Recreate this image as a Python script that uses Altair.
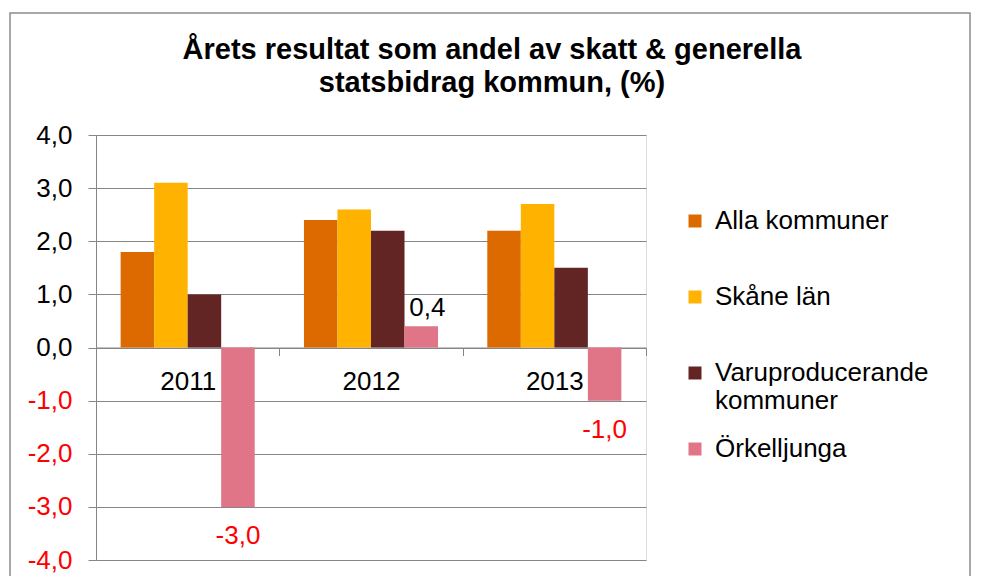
import altair as alt
import pandas as pd

years = ["2011", "2012", "2013"]
series = ["Alla kommuner", "Skåne län", "Varuproducerande kommuner", "Örkelljunga"]
alla_kommuner = [1.8, 2.4, 2.2]
skane_lan = [3.1, 2.6, 2.7]
varuproducerande = [1.0, 2.2, 1.5]
orkelljunga = [-3.0, 0.4, -1.0]
colors = ["#DC6A00", "#FFB300", "#632523", "#E07587"]
title_lines = ["Årets resultat som andel av skatt & generella", "statsbidrag kommun, (%)"]
y_ticks = [-4, -3, -2, -1, 0, 1, 2, 3, 4]

rows = []
for s, vals in zip(series, [alla_kommuner, skane_lan, varuproducerande, orkelljunga]):
    for yr, v in zip(years, vals):
        rows.append({"year": yr, "series": s, "value": v})
df = pd.DataFrame(rows)

FONT = "Liberation Sans"
GRAY = "#868686"
FS = 26
fmt = "(datum.value < 0 ? '-' : '') + replace(format(abs(datum.value), '.1f'), '.', ',')"

x = alt.X(
    "year:N",
    sort=years,
    scale=alt.Scale(paddingInner=0, paddingOuter=0),
    axis=alt.Axis(
        title=None, orient="bottom", offset=-212.5, tickBand="extent",
        domainColor=GRAY, tickColor=GRAY, tickSize=8, labelFontSize=FS,
        labelFont=FONT, labelColor="black", labelBaseline="alphabetic",
        labelPadding=34, labelAngle=0, grid=False,
    ),
)
xoff = alt.XOffset("series:N", sort=series,
                   scale=alt.Scale(paddingInner=0, paddingOuter=0.735))
y = alt.Y(
    "value:Q",
    scale=alt.Scale(domain=[-4, 4], nice=False),
    axis=alt.Axis(
        title=None, values=y_ticks, labelExpr=fmt,
        labelColor={"condition": {"test": "datum.value < 0", "value": "#FF0000"},
                    "value": "#000000"},
        labelFont=FONT, labelFontSize=FS, labelPadding=16,
        domainColor=GRAY, tickColor=GRAY, tickSize=8,
        gridColor=GRAY, gridOpacity=1, gridWidth=1,
    ),
)
color = alt.Color(
    "series:N", sort=series,
    scale=alt.Scale(domain=series, range=colors),
    legend=alt.Legend(
        title=None, orient="none", legendX=586, legendY=73, direction="vertical",
        gridAlign="all", symbolType="square", symbolSize=169, symbolStrokeWidth=0,
        labelFont=FONT, labelFontSize=FS, labelColor="black",
        labelOffset=7, rowPadding=22, padding=0, labelLimit=400,
        labelExpr="datum.label == 'Varuproducerande kommuner' ? ['Varuproducerande', 'kommuner'] : datum.label",
    ),
)

base = alt.Chart(df)
bars = base.mark_bar().encode(x=x, xOffset=xoff, y=y, y2=alt.datum(0), color=color)

pos_labels = base.transform_filter(
    "datum.series == 'Örkelljunga' && datum.value >= 0"
).transform_calculate(label=fmt).mark_text(
    baseline="alphabetic", dy=-10, dx=6, fontSize=FS, font=FONT, color="black"
).encode(x=x, xOffset=xoff, y=y, text="label:N")

neg_labels = base.transform_filter(
    "datum.series == 'Örkelljunga' && datum.value < 0"
).transform_calculate(label=fmt).mark_text(
    baseline="alphabetic", dy=37, fontSize=FS, font=FONT, color="#FF0000"
).encode(x=x, xOffset=xoff, y=y, text="label:N")

border = alt.Chart(pd.DataFrame({"k": [0]})).mark_rect(
    fill="transparent", stroke="#8C8C8C", strokeWidth=1.5
).encode(x=alt.value(-86), x2=alt.value(874), y=alt.value(-122), y2=alt.value(520))

chart = alt.layer(bars, pos_labels, neg_labels, border).properties(
    width=550,
    height=425,
    title=alt.TitleParams(
        text=title_lines, font=FONT, fontSize=29, fontWeight="bold",
        color="black", anchor="middle", dx=121, offset=-86, lineHeight=33,
    ),
    autosize=alt.AutoSizeParams(type="none"),
    padding={"left": 88, "top": 127, "right": 325, "bottom": 16},
).configure_view(stroke=None).configure(background="white")

chart.save("out.html", embed_options={"renderer": "svg", "actions": False})
